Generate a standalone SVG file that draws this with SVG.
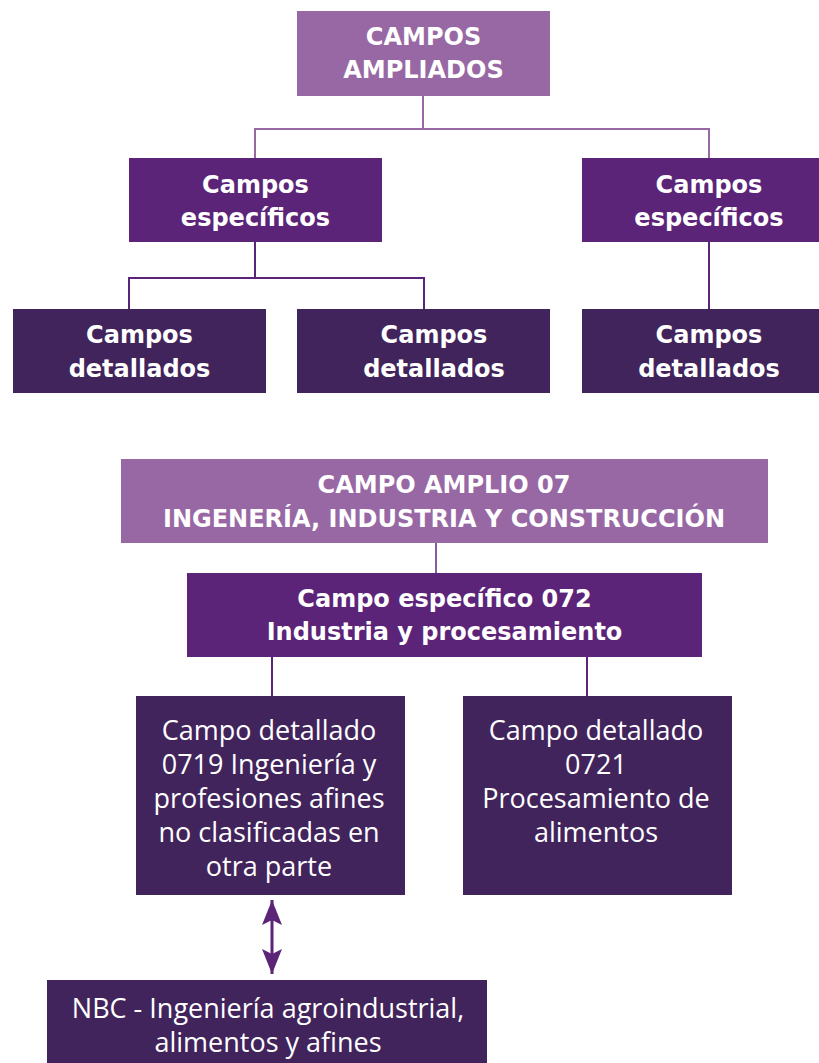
<svg xmlns="http://www.w3.org/2000/svg" width="819" height="1063" viewBox="0 0 819 1063">
<style>
.l1{fill:#9868A5}
.l2{fill:#5C2479}
.l3{fill:#42245C}
.b{font-family:"DejaVu Sans",sans-serif;font-weight:bold;font-size:24px;fill:#fff;text-anchor:middle}
.r{font-family:"Open Sans",sans-serif;font-size:27px;fill:#fff;text-anchor:middle}
.cl{fill:none;stroke:#9868A5;stroke-width:2}
.cd{fill:none;stroke:#5C2479;stroke-width:2}
</style>
<defs>
<marker id="ah" viewBox="0 0 25 20" refX="25" refY="10" markerWidth="25" markerHeight="20" markerUnits="userSpaceOnUse" orient="auto-start-reverse">
<path d="M0,0 L25,10 L0,20 L5,10 Z" fill="#5C2479"/>
</marker>
</defs>
<rect width="819" height="1063" fill="#fff"/>
<g id="connectors">
<path class="cl" d="M423,96 V129 M255,129 H709 M255,128 V158 M709,128 V158"/>
<path class="cd" d="M255,242 V278 M129,278 H424 M129,277 V309 M424,277 V309 M709,242 V309"/>
<path fill="none" stroke="#8A5A9C" stroke-width="2" d="M436,543 V573"/>
<path class="cd" d="M272,657 V696 M587,657 V696"/>
<path fill="none" stroke="#5C2479" stroke-width="3" d="M272,900 V974" marker-start="url(#ah)" marker-end="url(#ah)"/>
</g>
<g id="campos-ampliados">
<rect class="l1" x="297" y="11" width="253" height="85"/>
<text class="b" x="423.5" y="45" font-size="25">CAMPOS</text>
<text class="b" x="423.5" y="78" font-size="25">AMPLIADOS</text>
</g>
<g id="esp-left">
<rect class="l2" x="129" y="158" width="253" height="84"/>
<text class="b" x="255.5" y="193">Campos</text>
<text class="b" x="255.5" y="226">específicos</text>
</g>
<g id="esp-right">
<rect class="l2" x="582" y="158" width="253" height="84"/>
<text class="b" x="709" y="193">Campos</text>
<text class="b" x="709" y="226">específicos</text>
</g>
<g id="det-1">
<rect class="l3" x="13" y="309" width="253" height="84"/>
<text class="b" x="139.5" y="343">Campos</text>
<text class="b" x="139.5" y="377">detallados</text>
</g>
<g id="det-2">
<rect class="l3" x="297" y="309" width="253" height="84"/>
<text class="b" x="434" y="343">Campos</text>
<text class="b" x="434" y="377">detallados</text>
</g>
<g id="det-3">
<rect class="l3" x="582" y="309" width="253" height="84"/>
<text class="b" x="709" y="343">Campos</text>
<text class="b" x="709" y="377">detallados</text>
</g>
<g id="campo-amplio-07">
<rect class="l1" x="121" y="459" width="647" height="84"/>
<text class="b" x="444" y="493">CAMPO AMPLIO 07</text>
<text class="b" x="444" y="527">INGENERÍA, INDUSTRIA Y CONSTRUCCIÓN</text>
</g>
<g id="campo-especifico-072">
<rect class="l2" x="187" y="573" width="515" height="84"/>
<text class="b" x="444.5" y="607">Campo específico 072</text>
<text class="b" x="444.5" y="640">Industria y procesamiento</text>
</g>
<g id="campo-detallado-0719">
<rect class="l3" x="136" y="696" width="269" height="199"/>
<text class="r" x="269" y="740">Campo detallado</text>
<text class="r" x="269" y="774">0719 Ingeniería y</text>
<text class="r" x="269" y="808">profesiones afines</text>
<text class="r" x="269" y="842">no clasificadas en</text>
<text class="r" x="269" y="876">otra parte</text>
</g>
<g id="campo-detallado-0721">
<rect class="l3" x="463" y="696" width="269" height="199"/>
<text class="r" x="596" y="740">Campo detallado</text>
<text class="r" x="596" y="774">0721</text>
<text class="r" x="596" y="808">Procesamiento de</text>
<text class="r" x="596" y="842">alimentos</text>
</g>
<g id="nbc">
<rect class="l3" x="47" y="980" width="440" height="83"/>
<text class="r" x="268" y="1018">NBC - Ingeniería agroindustrial,</text>
<text class="r" x="268" y="1052">alimentos y afines</text>
</g>
</svg>
